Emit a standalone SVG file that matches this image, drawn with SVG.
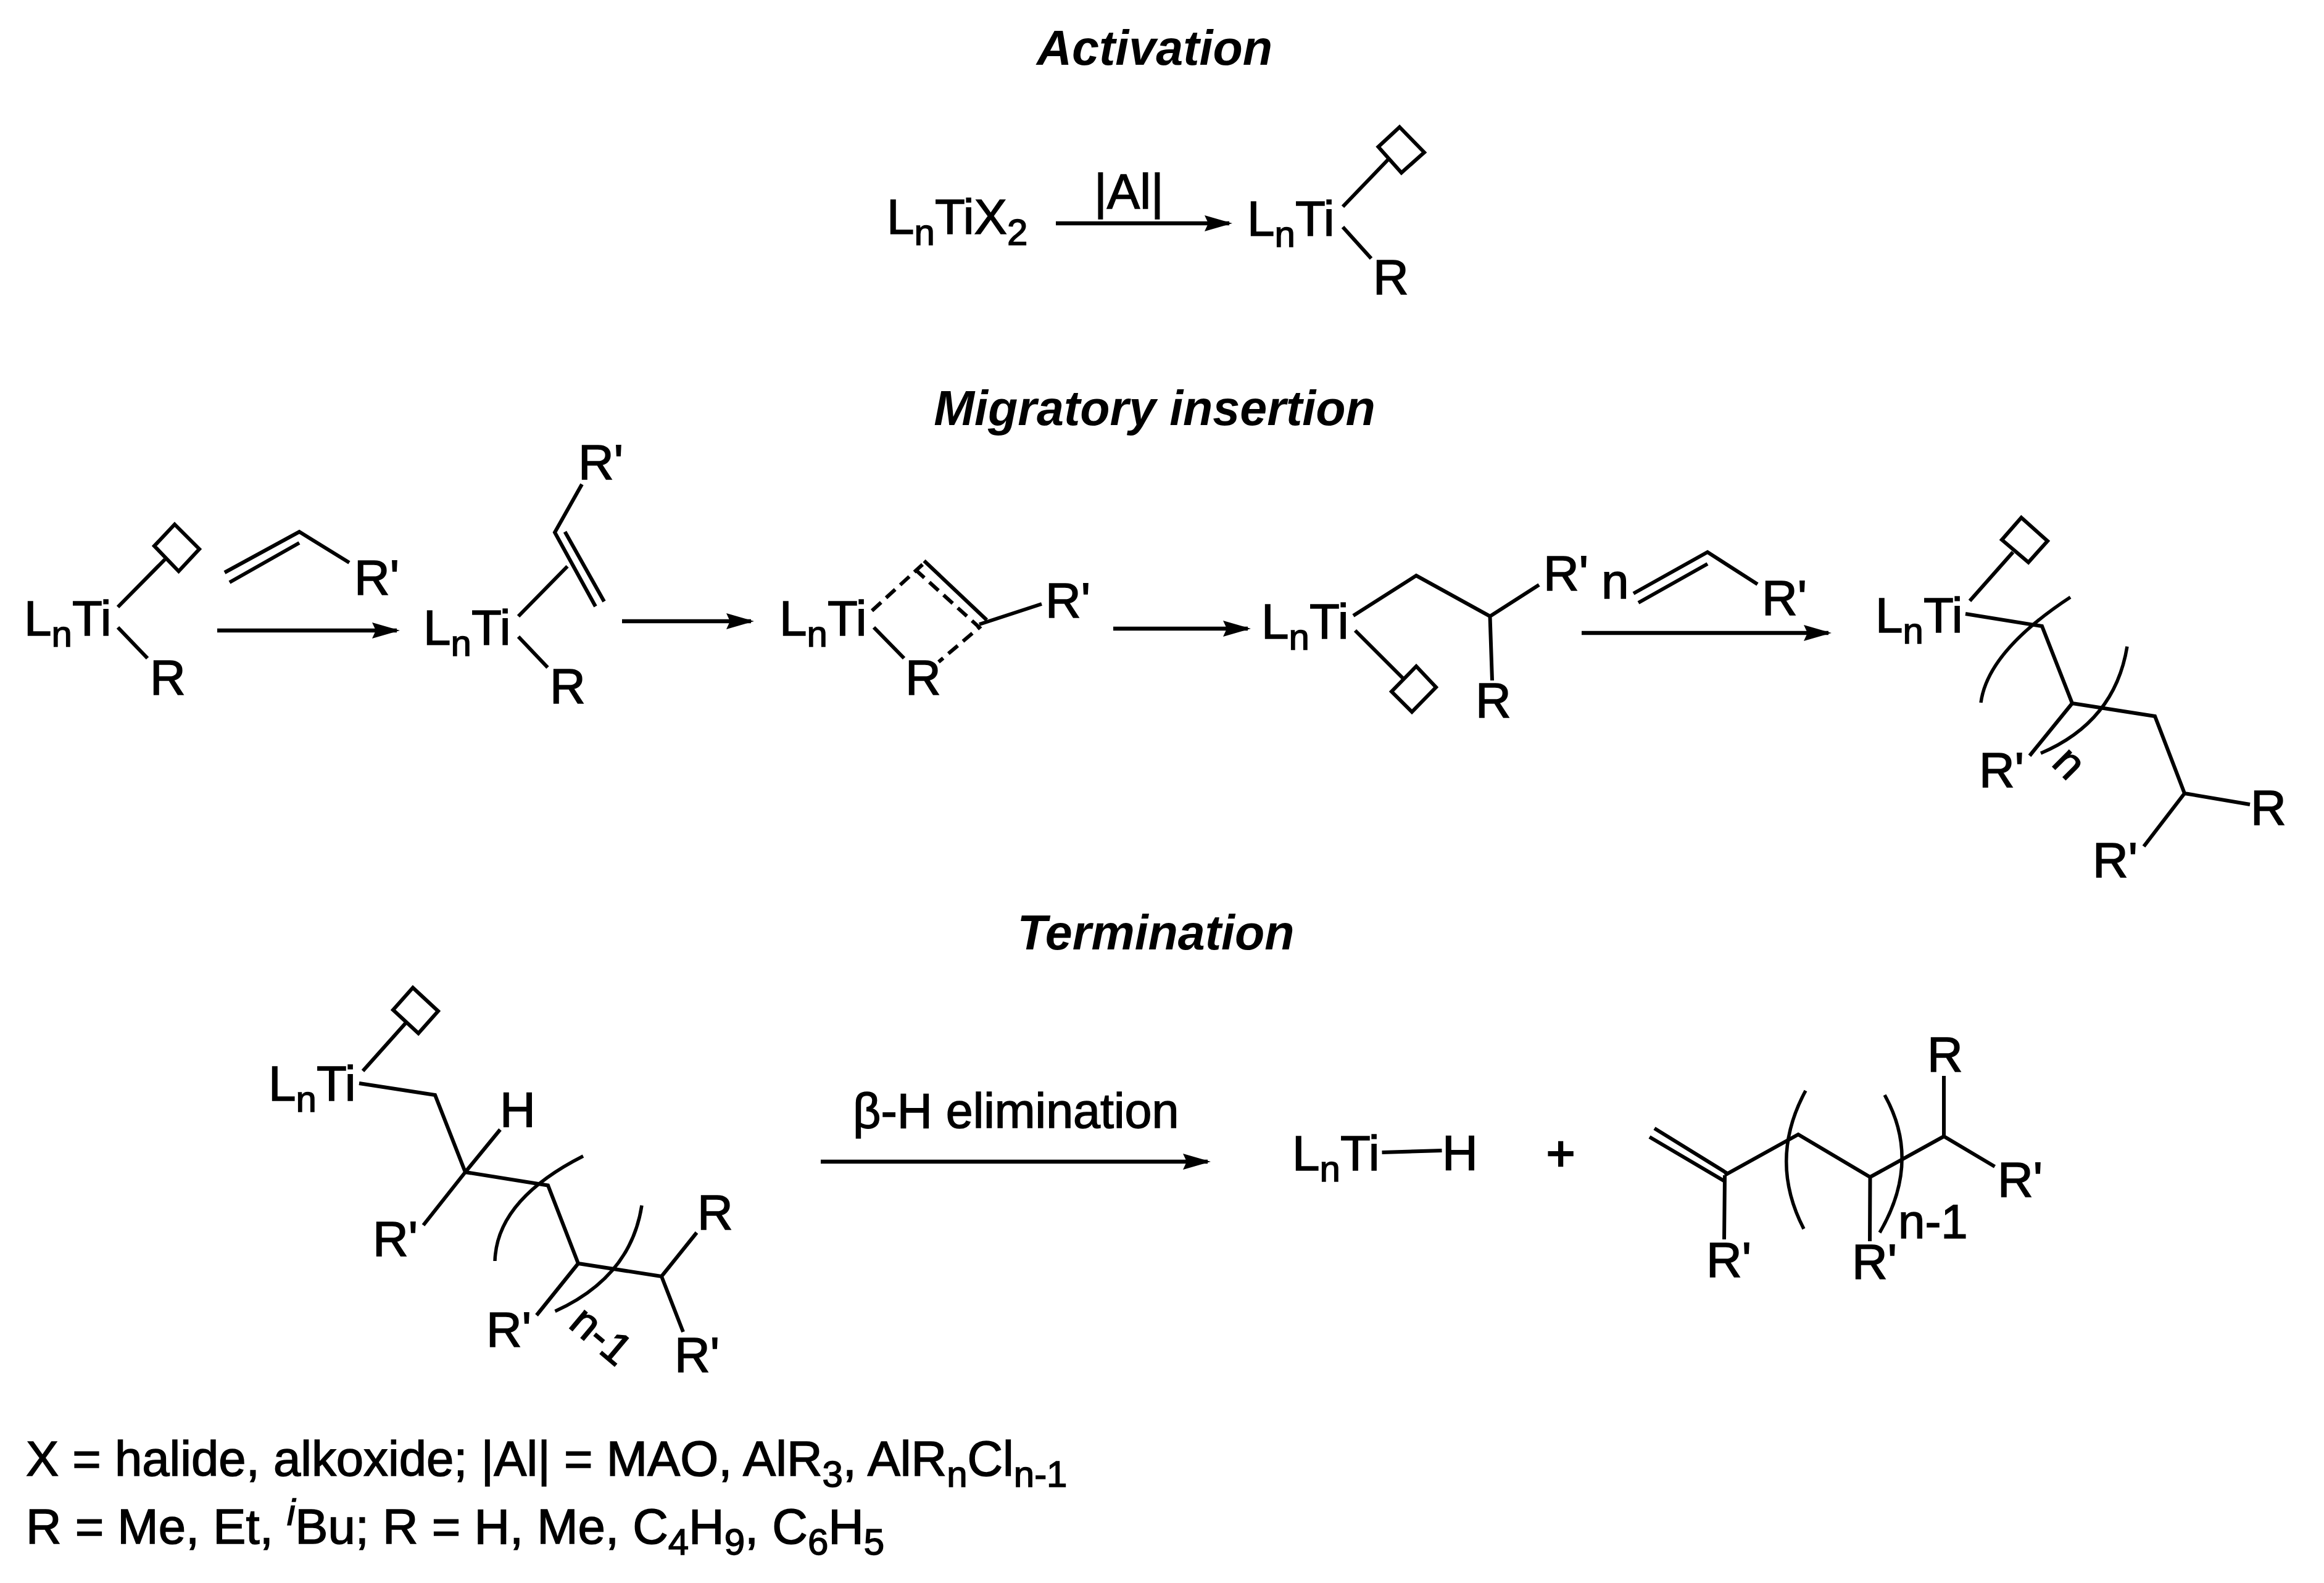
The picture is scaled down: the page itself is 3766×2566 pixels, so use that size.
<svg xmlns="http://www.w3.org/2000/svg" width="3766" height="2566" viewBox="0 0 3766 2566">
<style>
text{font-family:"Liberation Sans",Arial,sans-serif;font-size:80px;fill:#000;stroke:#000;stroke-width:1.5}
.t{font-size:79px;font-weight:bold;font-style:italic;text-anchor:middle;stroke:none}
.l{font-size:79.7px}
.s{font-size:60px}
.r{font-size:72px;text-anchor:middle;dominant-baseline:middle}
.b,.ar{fill:none;stroke:#000;stroke-width:6;stroke-linejoin:miter}
.d{stroke-dasharray:20 11}
.ar{stroke-width:6.5;marker-end:url(#head)}
.br{fill:none;stroke:#000;stroke-width:5.5}
</style>
<defs>
<marker id="head" markerUnits="userSpaceOnUse" markerWidth="46" markerHeight="26" refX="40" refY="13" orient="auto"><path d="M0,0L45,13L0,26L6,13Z" fill="#000"/></marker>
</defs>
<rect width="3766" height="2566" fill="#fff"/>
<g id="titles">
<text class="t" x="1871" y="105">Activation</text>
<text class="t" x="1871" y="689">Migratory insertion</text>
<text class="t" x="1873" y="1539">Termination</text>
</g>
<g id="connectors">
<line class="ar" x1="1711" y1="362" x2="1992" y2="362"/>
<line class="ar" x1="352" y1="1022" x2="643" y2="1022"/>
<line class="ar" x1="1008" y1="1007" x2="1217" y2="1007"/>
<line class="ar" x1="1804" y1="1019" x2="2022" y2="1019"/>
<line class="ar" x1="2563" y1="1026" x2="2963" y2="1026"/>
<line class="ar" x1="1330" y1="1883" x2="1957" y2="1883"/>
</g>
<g id="reagent-al"><text x="1773" y="338">|Al|</text></g>
<g id="reagent-beta"><text x="1382" y="1828" style="font-size:79px">β-H elimination</text></g>
<g id="ti-x2"><text x="1437" y="379">L<tspan class="s" dy="18">n</tspan><tspan dy="-18">TiX</tspan><tspan class="s" dy="18">2</tspan></text></g>
<g id="active-species">
<text x="2021" y="382">L<tspan class="s" dy="18">n</tspan><tspan dy="-18">Ti</tspan></text>
<text x="2225" y="477">R</text>
<path class="b" d="M2176,335L2250,258M2176,368L2222,419M2268,206L2308,247L2271,280L2233.5,238Z"/>
</g>
<g id="mi-1">
<text x="39" y="1030">L<tspan class="s" dy="18">n</tspan><tspan dy="-18">Ti</tspan></text>
<text x="243" y="1126">R</text>
<path class="b" d="M191,984L267,907M191,1017L239,1067M283,850L323,890L289.5,926L250,885Z"/>
</g>
<g id="olefin-1">
<text x="574" y="964">R'</text>
<path class="b" d="M364,928L485,862L566,912M372,944L485,880"/>
</g>
<g id="mi-2">
<text x="686" y="1045">L<tspan class="s" dy="18">n</tspan><tspan dy="-18">Ti</tspan></text>
<text x="891" y="1140">R</text>
<text x="937" y="777">R'</text>
<path class="b" d="M840,999L919.5,918M840,1032L887.5,1082M943,785L899,863L965,983M915.5,862L979,975"/>
</g>
<g id="mi-3">
<text x="1263" y="1030">L<tspan class="s" dy="18">n</tspan><tspan dy="-18">Ti</tspan></text>
<text x="1467" y="1126">R</text>
<text x="1694" y="1001">R'</text>
<path class="b" d="M1416,1017L1465,1067M1497.5,909L1599,1005M1587,1012L1688,979"/>
<path class="b d" d="M1413,990L1495,915M1483,923L1587,1017L1521,1073"/>
</g>
<g id="mi-4">
<text x="2044" y="1035">L<tspan class="s" dy="18">n</tspan><tspan dy="-18">Ti</tspan></text>
<text x="2501" y="957">R'</text>
<text x="2391" y="1163">R</text>
<path class="b" d="M2193,998L2295,933L2414.5,999L2494,948M2414.5,999L2418,1103M2196,1022L2274,1100M2295,1080L2327,1114L2288,1154L2255,1121Z"/>
</g>
<g id="olefin-n">
<text x="2595" y="970">n</text>
<text x="2855" y="997">R'</text>
<path class="b" d="M2647,962L2767,895L2848,947M2655,977L2767,914"/>
</g>
<g id="polymer">
<text x="3039" y="1025">L<tspan class="s" dy="18">n</tspan><tspan dy="-18">Ti</tspan></text>
<text x="3207" y="1276">R'</text>
<text x="3647" y="1337">R</text>
<text x="3391" y="1422">R'</text>
<text class="r" transform="translate(3350,1240) rotate(45)">n</text>
<path class="b" d="M3192,974L3262,895M3275.5,839L3318,877L3287,911.5L3244,875ZM3185,995L3309,1015L3358,1140L3492,1161L3540,1286L3646,1304M3540,1286L3474,1372M3358,1140L3289,1225"/>
<path class="br" d="M3355,968Q3221,1056 3210,1139M3447,1048Q3427,1170 3307,1221"/>
</g>
<g id="term-start">
<text x="435" y="1784">L<tspan class="s" dy="18">n</tspan><tspan dy="-18">Ti</tspan></text>
<text x="810" y="1826">H</text>
<text x="604" y="2036">R'</text>
<text x="788" y="2183">R'</text>
<text x="1130" y="1993">R</text>
<text x="1093" y="2224">R'</text>
<text class="r" transform="translate(971,2169) rotate(40)">n-1</text>
<path class="b" d="M588,1736L659.5,1656M669,1601L710,1639L678,1675L637,1637ZM582,1756L705,1775L754,1900L888,1921.5L937,2048L1072,2069L1129,1998M754,1900L810.5,1831M754,1900L686,1986M937,2048L869.5,2132M1072,2069L1107,2159"/>
<path class="br" d="M945,1874Q805,1945 802,2044M1040,1954Q1022,2070 899.5,2125.5"/>
</g>
<g id="ti-h">
<text x="2094" y="1897">L<tspan class="s" dy="18">n</tspan><tspan dy="-18">Ti</tspan></text>
<text x="2337" y="1896">H</text>
<path class="b" d="M2239.5,1868L2336.5,1865"/>
</g>
<g id="plus"><text x="2529" y="1897" text-anchor="middle" style="stroke-width:2.5">+</text></g>
<g id="olefin-product">
<text x="3123" y="1737">R</text>
<text x="3237" y="1940">R'</text>
<text x="2765" y="2070">R'</text>
<text x="3001" y="2073">R'</text>
<text x="3076" y="2007" style="font-size:78px">n-1</text>
<path class="b" d="M2681,1829L2799,1902M2673,1843L2795,1915M2795,1905L2914,1839L3030.5,1908L3150,1842L3232.5,1891M3150,1842L3150,1744M2795,1905L2794,2009M3030.5,1908L3030,2012"/>
<path class="br" d="M2926,1768Q2865,1880 2923,1992M3054,1775Q3114,1882 3046,1998"/>
</g>
<g id="legend">
<text class="l" x="42" y="2392">X = halide, alkoxide; |Al| = MAO, AlR<tspan class="s" dy="18">3</tspan><tspan dy="-18">, AlR</tspan><tspan class="s" dy="18">n</tspan><tspan dy="-18">Cl</tspan><tspan class="s" dy="18">n-1</tspan></text>
<text class="l" x="42" y="2502">R = Me, Et, <tspan class="s" font-style="italic" dy="-30">i</tspan><tspan dy="30">Bu; R = H, Me, C</tspan><tspan class="s" dy="18">4</tspan><tspan dy="-18">H</tspan><tspan class="s" dy="18">9</tspan><tspan dy="-18">, C</tspan><tspan class="s" dy="18">6</tspan><tspan dy="-18">H</tspan><tspan class="s" dy="18">5</tspan></text>
</g>
</svg>
